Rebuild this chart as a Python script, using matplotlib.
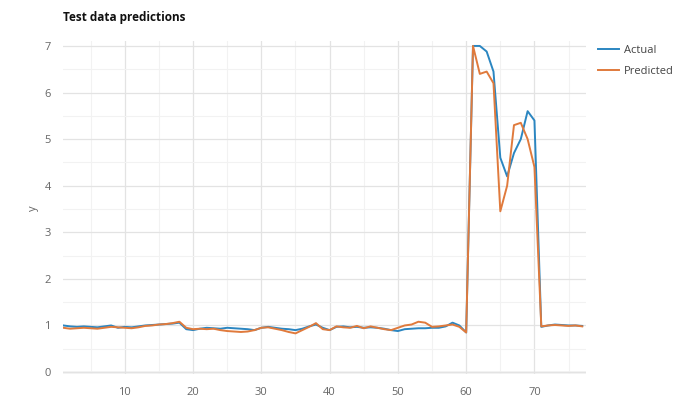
import numpy as np
import matplotlib
matplotlib.use("Agg")
import matplotlib.pyplot as plt
from matplotlib.ticker import MultipleLocator

plt.rcParams["font.family"] = ["Open Sans", "DejaVu Sans"]

# --- datos ---
x = list(range(1, 78))
actual = [
    1.00, 0.98, 0.97, 0.98, 0.97, 0.96, 0.98, 1.00, 0.95, 0.97,
    0.96, 0.98, 1.00, 1.01, 1.02, 1.03, 1.04, 1.06, 0.92, 0.90,
    0.93, 0.95, 0.94, 0.93, 0.95, 0.94, 0.93, 0.92, 0.90, 0.95,
    0.97, 0.95, 0.93, 0.92, 0.90, 0.93, 0.98, 1.02, 0.95, 0.90,
    0.97, 0.98, 0.96, 0.97, 0.95, 0.96, 0.95, 0.93, 0.90, 0.88,
    0.92, 0.93, 0.94, 0.94, 0.95, 0.95, 0.98, 1.06, 1.00, 0.85,
    7.00, 7.00, 6.88, 6.45, 4.60, 4.20, 4.70, 5.00, 5.60, 5.40,
    0.97, 1.00, 1.02, 1.01, 1.00, 1.00, 0.99,
]
predicted = [
    0.95, 0.93, 0.94, 0.95, 0.94, 0.93, 0.95, 0.97, 0.96, 0.95,
    0.94, 0.96, 0.99, 1.00, 1.02, 1.03, 1.05, 1.08, 0.95, 0.92,
    0.93, 0.92, 0.93, 0.90, 0.88, 0.87, 0.86, 0.87, 0.90, 0.95,
    0.96, 0.93, 0.90, 0.86, 0.83, 0.90, 0.97, 1.05, 0.92, 0.90,
    0.98, 0.96, 0.95, 0.99, 0.94, 0.98, 0.95, 0.92, 0.90, 0.95,
    1.00, 1.02, 1.08, 1.06, 0.97, 0.98, 1.00, 1.02, 0.97, 0.85,
    7.00, 6.40, 6.45, 6.20, 3.45, 4.00, 5.30, 5.35, 5.00, 4.40,
    0.98, 1.00, 1.01, 1.00, 0.99, 1.00, 0.98,
]

fig = plt.figure(figsize=(6.81, 3.97), dpi=100)
ax = fig.add_axes([0.093, 0.057, 0.767, 0.839])

ax.plot(x, actual, color="#2b86c1", lw=1.4, label="Actual")
ax.plot(x, predicted, color="#e07a3c", lw=1.4, label="Predicted")

ax.set_xlim(1, 77.5)
ax.set_ylim(-0.05, 7.1)
ax.xaxis.set_major_locator(MultipleLocator(10))
ax.xaxis.set_minor_locator(MultipleLocator(5))
ax.yaxis.set_major_locator(MultipleLocator(1))
ax.yaxis.set_minor_locator(MultipleLocator(0.5))
ax.grid(which="major", color="#e3e3e3", lw=0.9)
ax.grid(which="minor", color="#f2f2f2", lw=0.8)
ax.set_axisbelow(True)
for s in ax.spines.values():
    s.set_visible(False)
ax.axhline(0, color="#d0d0d0", lw=1, zorder=0)
ax.tick_params(which="both", length=0, labelsize=8, labelcolor="#666666", pad=9)

ax.set_ylabel("y", fontsize=8, color="#666666", labelpad=4)
fig.text(0.093, 0.947, "Test data predictions", fontsize=8.5, fontweight="bold", color="#111111")

ax.legend(loc="upper left", bbox_to_anchor=(1.005, 1.02), frameon=False,
          fontsize=8, handlelength=1.9, handletextpad=0.4, labelspacing=0.9,
          labelcolor="#444444")

fig.savefig("out.png", dpi=100)
